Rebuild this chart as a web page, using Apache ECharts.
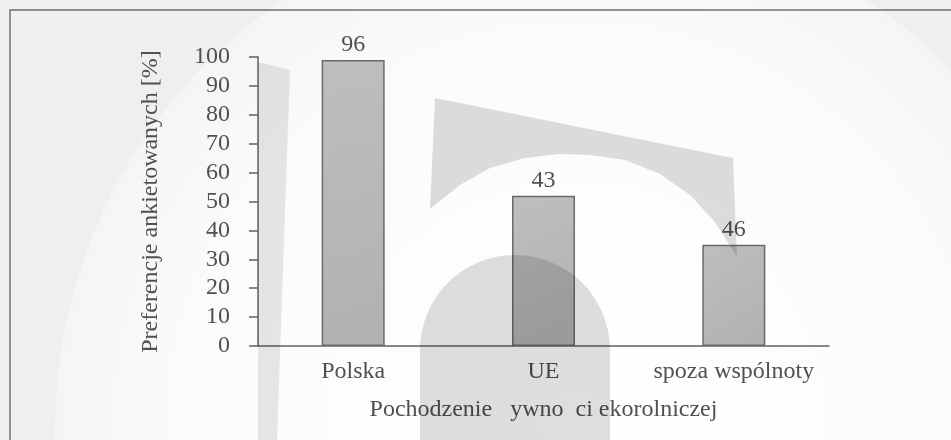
<!DOCTYPE html>
<html>
<head>
<meta charset="utf-8">
<script src="https://cdn.jsdelivr.net/npm/echarts@6/dist/echarts.min.js"></script>
<style>
  html, body { margin: 0; padding: 0; }
  #chart { width: 951px; height: 440px; }
</style>
</head>
<body>
<div id="chart"></div>
<script>
// dane
const categories = ['Polska', 'UE', 'spoza wspólnoty'];
const barHeights = [99, 52, 35];      // wysokosc slupka na osi
const barLabels = ['96', '43', '46']; // etykiety nad slupkami (tak jak w oryginale)
const yTicks = [0, 10, 20, 30, 40, 50, 60, 70, 80, 90, 100];

const txt = '#505050';
const font = 'Liberation Serif';
const fs = 24;

const chart = echarts.init(document.getElementById('chart'));

// tlo i znak wodny (dekoracja, nie dane)
const shade = 'rgba(0,0,0,0.13)';
const graphic = [
  { type: 'rect', z: -10, shape: { x: 0, y: 0, width: 951, height: 440 }, style: { fill: '#efefef' }, silent: true },
  { type: 'circle', z: -9, shape: { cx: 575, cy: 430, r: 520 },
    style: { fill: new echarts.graphic.RadialGradient(0.5, 0.5, 0.5, [
      { offset: 0, color: '#ffffff' }, { offset: 0.75, color: '#fbfbfb' }, { offset: 1, color: '#f5f5f5' }]) }, silent: true },
  { type: 'rect', z: 1, shape: { x: 10, y: 10, width: 960, height: 460 }, style: { fill: 'none', stroke: '#707070', lineWidth: 1.5 }, silent: true },
  { type: 'polygon', z: 100, shape: { points: [[258, 62], [290, 70], [277, 440], [258, 440]] }, style: { fill: 'rgba(0,0,0,0.09)' }, silent: true },
  { type: 'polygon', z: 100, shape: { points: [
      [435, 98], [733, 158], [737, 257], [715, 222], [690, 195], [660, 174], [625, 160], [590, 155],
      [560, 154], [525, 158], [490, 168], [460, 185], [430, 209]] }, style: { fill: shade }, silent: true },
  { type: 'sector', z: 100, shape: { cx: 515, cy: 350, r: 95, startAngle: Math.PI, endAngle: Math.PI * 2 }, style: { fill: shade }, silent: true },
  { type: 'rect', z: 100, shape: { x: 420, y: 350, width: 190, height: 90 }, style: { fill: shade }, silent: true }
];

const option = {
  animation: false,
  textStyle: { fontFamily: font, color: txt },
  graphic: graphic,
  grid: { left: 258, right: 122, top: 57, bottom: 94 },
  xAxis: {
    type: 'category',
    data: categories,
    name: 'Pochodzenie   ywno  ci ekorolniczej',
    nameLocation: 'middle',
    nameGap: 52,
    nameTextStyle: { fontSize: fs, color: txt, fontFamily: font },
    axisLine: { lineStyle: { color: '#606060', width: 1.5 } },
    axisTick: { length: 6, lineStyle: { color: '#606060', width: 1.5 } },
    axisLabel: { interval: 0, fontSize: fs, color: txt, fontFamily: font, margin: 14 }
  },
  yAxis: {
    type: 'value',
    min: 0,
    max: 100,
    interval: 10,
    name: 'Preferencje ankietowanych [%]',
    nameLocation: 'middle',
    nameGap: 95,
    nameTextStyle: { fontSize: fs, color: txt, fontFamily: font },
    axisLine: { show: true, lineStyle: { color: '#606060', width: 1.5 } },
    axisTick: { show: true, length: 9, lineStyle: { color: '#606060', width: 1.5 } },
    splitLine: { show: false },
    axisLabel: {
      fontSize: fs, color: txt, fontFamily: font, margin: 28,
      formatter: v => (yTicks.indexOf(v) >= 0 ? String(v) : '')
    }
  },
  series: [{
    type: 'bar',
    data: barHeights,
    barWidth: 63,
    itemStyle: {
      color: new echarts.graphic.LinearGradient(0, 0, 1, 1, [
        { offset: 0, color: '#bdbec0' }, { offset: 1, color: '#b0b1b3' }]),
      borderColor: '#6a6a6a',
      borderWidth: 1.5
    },
    label: {
      show: true,
      position: 'top',
      distance: 3,
      fontSize: fs,
      color: txt,
      fontFamily: font,
      formatter: p => barLabels[p.dataIndex]
    }
  }]
};

chart.setOption(option);
</script>
</body>
</html>
